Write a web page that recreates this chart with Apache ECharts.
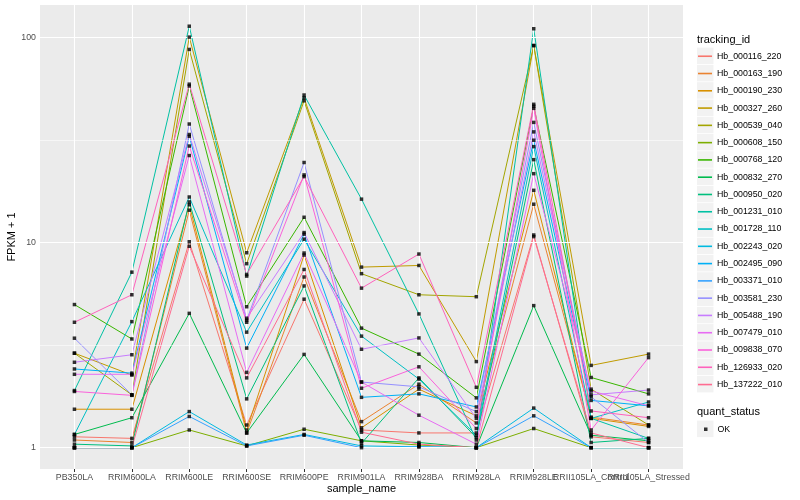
<!DOCTYPE html>
<html>
<head>
<meta charset="utf-8">
<script src="https://cdn.jsdelivr.net/npm/echarts@6/dist/echarts.min.js"></script>
<style>
html,body{margin:0;padding:0;background:#fff;}
#chart{width:800px;height:500px;}
</style>
</head>
<body>
<div id="chart"></div>
<script>
// ---- data ----
const categories = ["PB350LA","RRIM600LA","RRIM600LE","RRIM600SE","RRIM600PE","RRIM901LA","RRIM928BA","RRIM928LA","RRIM928LE","RRII105LA_Control","RRII105LA_Stressed"];
const trackingIds = ["Hb_000116_220","Hb_000163_190","Hb_000190_230","Hb_000327_260","Hb_000539_040","Hb_000608_150","Hb_000768_120","Hb_000832_270","Hb_000950_020","Hb_001231_010","Hb_001728_110","Hb_002243_020","Hb_002495_090","Hb_003371_010","Hb_003581_230","Hb_005488_190","Hb_007479_010","Hb_009838_070","Hb_126933_020","Hb_137222_010"];
const yTicks = [1, 10, 100];
const yMinorTicks = [3.1623, 31.623];

const hb_000116_220 = [1.13, 1.11, 10.1, 1.29, 5.3, 1.22, 1.18, 1.18, 10.9, 1.13, 1.06];
const hb_000163_190 = [1.09, 1.06, 14.4, 1.18, 6.8, 1.34, 2.04, 1.32, 15.4, 1.41, 1.29];
const hb_000190_230 = [1.54, 1.54, 15.3, 1.22, 8.7, 1.25, 1.93, 1.43, 18.0, 1.39, 1.27];
const hb_000327_260 = [2.89, 2.26, 100.6, 8.93, 50.9, 7.6, 7.74, 2.63, 91.5, 2.52, 2.86];
const hb_000539_040 = [2.89, 1.81, 87.6, 7.9, 49.2, 7.06, 5.57, 5.45, 91.5, 1.93, 1.29];
const hb_000608_150 = [1.0, 1.0, 1.22, 1.02, 1.23, 1.08, 1.03, 1.0, 1.24, 1.0, 1.0];
const hb_000768_120 = [4.99, 3.39, 58.1, 4.87, 13.3, 3.83, 2.86, 1.75, 46.3, 2.20, 1.83];
const hb_000832_270 = [1.16, 1.40, 4.52, 1.18, 2.85, 1.08, 1.06, 1.0, 4.93, 1.15, 1.08];
const hb_000950_020 = [1.04, 1.02, 15.8, 1.73, 6.15, 1.05, 2.19, 1.12, 25.4, 1.06, 1.11];
const hb_001231_010 = [1.90, 7.18, 113.7, 6.87, 52.5, 16.3, 4.49, 1.09, 110.5, 1.39, 1.11];
const hb_001728_110 = [1.16, 4.12, 16.7, 3.66, 10.4, 3.5, 2.16, 1.15, 29.4, 1.39, 1.67];
const hb_002243_020 = [1.0, 1.0, 1.50, 1.03, 1.16, 1.02, 1.01, 1.0, 1.56, 1.0, 1.0];
const hb_002495_090 = [2.42, 2.31, 33.0, 3.06, 11.0, 1.76, 1.83, 1.58, 31.6, 1.70, 1.60];
const hb_003371_010 = [1.0, 1.0, 1.42, 1.02, 1.15, 1.0, 1.01, 1.0, 1.43, 1.0, 1.0];
const hb_003581_230 = [3.42, 1.81, 37.9, 4.19, 24.6, 2.09, 1.98, 1.50, 38.6, 1.77, 1.06];
const hb_005488_190 = [2.61, 2.84, 33.7, 4.28, 11.2, 3.02, 3.43, 1.39, 34.7, 1.81, 1.91];
const hb_007479_010 = [2.28, 2.28, 26.6, 2.33, 8.9, 2.09, 1.44, 1.04, 21.7, 1.89, 1.60];
const hb_009838_070 = [1.88, 1.80, 29.6, 4.09, 21.4, 1.95, 2.48, 1.24, 45.2, 1.22, 2.75];
const hb_126933_020 = [4.09, 5.57, 59.3, 7.0, 21.0, 6.0, 8.8, 1.97, 47.3, 1.51, 1.40];
const hb_137222_010 = [1.0, 1.0, 9.6, 2.19, 7.4, 1.19, 1.04, 1.0, 10.7, 1.18, 1.0];

const seriesValues = [hb_000116_220, hb_000163_190, hb_000190_230, hb_000327_260, hb_000539_040,
  hb_000608_150, hb_000768_120, hb_000832_270, hb_000950_020, hb_001231_010, hb_001728_110,
  hb_002243_020, hb_002495_090, hb_003371_010, hb_003581_230, hb_005488_190, hb_007479_010,
  hb_009838_070, hb_126933_020, hb_137222_010];

// ---- style ----
const palette = ["#F8766D","#EA8331","#D89000","#C09B00","#A3A500","#7CAE00","#39B600","#00BB4E","#00BF7D","#00C1A3","#00BFC4","#00BAE0","#00B0F6","#35A2FF","#9590FF","#C77CFF","#E76BF3","#FA62DB","#FF62BC","#FF6C91"];
const FONT = "Liberation Sans, Arial, sans-serif";
const chart = echarts.init(document.getElementById('chart'), null, {renderer: 'canvas'});

const xIdx = categories.map((c, i) => i);
const xIdxEven = xIdx.filter(i => i % 2 === 0);
const xIdxOdd = xIdx.filter(i => i % 2 === 1);
const gridMarks = [];
xIdx.forEach(i => gridMarks.push({xAxis: i, lineStyle: {color: '#fff', width: 1.1, type: 'solid'}}));
yTicks.forEach(v => gridMarks.push({yAxis: v, lineStyle: {color: '#fff', width: 1.1, type: 'solid'}}));
yMinorTicks.forEach(v => gridMarks.push({yAxis: v, lineStyle: {color: '#fff', width: 0.55, type: 'solid'}}));

const series = [];
series.push({
  type: 'line', name: '_grid', data: [], z: 1, silent: true,
  markLine: {silent: true, symbol: ['none','none'], label: {show: false}, animation: false, data: gridMarks}
});
seriesValues.forEach((vals, i) => {
  series.push({
    type: 'line', name: trackingIds[i], z: 2,
    data: vals.map((v, j) => [j, v]),
    showSymbol: false, symbol: 'none',
    lineStyle: {color: palette[i], width: 1},
    itemStyle: {color: palette[i]},
    emphasis: {disabled: true}, animation: false
  });
});
const pts = [];
seriesValues.forEach(vals => vals.forEach((v, j) => pts.push([j, v])));
series.push({
  type: 'scatter', name: 'OK', z: 5, data: pts,
  symbol: 'rect', symbolSize: 3.5, itemStyle: {color: '#000'},
  emphasis: {disabled: true}, animation: false
});

const keyRects = [];
for (let i = 0; i < trackingIds.length; i++) {
  keyRects.push({type: 'rect', left: 697, top: 47.6 + i * 17.28, shape: {width: 16.5, height: 16.5}, style: {fill: '#F2F2F2'}, z: -1});
}
keyRects.push({type: 'rect', left: 697, top: 420.6, shape: {width: 16.5, height: 16.5}, style: {fill: '#F2F2F2'}, z: -1});
keyRects.push({type: 'text', left: 697, top: 34, style: {text: 'tracking_id', font: '11px ' + FONT, fill: '#000'}});
keyRects.push({type: 'text', left: 697, top: 406, style: {text: 'quant_status', font: '11px ' + FONT, fill: '#000'}});

function xAxisFor(vals, withName) {
  return {
    type: 'value', min: -0.6, max: 10.6, position: 'bottom', offset: 0,
    name: withName ? 'sample_name' : '', nameLocation: 'middle', nameGap: 14, nameMoveOverlap: false,
    nameTextStyle: {fontSize: 11, color: '#000', fontFamily: FONT, verticalAlign: 'top'},
    axisLine: {show: false},
    axisTick: {show: withName, customValues: xIdx, length: 3, lineStyle: {color: '#333', width: 1}},
    axisLabel: {customValues: vals, formatter: v => categories[Math.round(v)] || '', fontSize: 8.8, color: '#4D4D4D', margin: 4, fontFamily: FONT,
      showMinLabel: true, showMaxLabel: true, hideOverlap: false},
    splitLine: {show: false}
  };
}

chart.setOption({
  animation: false,
  backgroundColor: '#fff',
  textStyle: {fontFamily: FONT},
  grid: {left: 40, right: 117, top: 5, bottom: 31, show: true, backgroundColor: '#EBEBEB', borderWidth: 0,
    containLabel: false, outerBoundsMode: 'none'},
  xAxis: [xAxisFor(xIdxEven, true), xAxisFor(xIdxOdd, false)],
  yAxis: {
    type: 'log', logBase: 10, min: 0.787, max: 144.3,
    name: 'FPKM + 1', nameLocation: 'middle', nameGap: 23, nameMoveOverlap: false,
    nameTextStyle: {fontSize: 11, color: '#000', fontFamily: FONT},
    axisLine: {show: false},
    axisTick: {show: true, customValues: yTicks, length: 3, lineStyle: {color: '#333', width: 1}},
    axisLabel: {customValues: yTicks, formatter: v => String(Math.round(v)), fontSize: 8.8, color: '#4D4D4D', margin: 4, fontFamily: FONT},
    splitLine: {show: false}, minorSplitLine: {show: false}
  },
  legend: [{
    orient: 'vertical', left: 698, top: 47.6, itemGap: 0, padding: 0,
    itemWidth: 14, itemHeight: 1.6, selectedMode: false,
    textStyle: {fontSize: 8.8, color: '#000', lineHeight: 17.28, height: 17.28, fontFamily: FONT, padding: [0, 0, 0, 0]},
    data: trackingIds.map((n, i) => ({name: n, icon: 'rect', itemStyle: {color: palette[i]}}))
  }, {
    orient: 'vertical', left: 704, top: 420.6, itemGap: 0, padding: 0,
    itemWidth: 3.5, itemHeight: 3.5, selectedMode: false,
    textStyle: {fontSize: 8.8, color: '#000', lineHeight: 17.28, height: 17.28, fontFamily: FONT, padding: [0, 0, 0, 5]},
    data: [{name: 'OK', icon: 'rect', itemStyle: {color: '#000'}}]
  }],
  graphic: keyRects,
  series: series
});
</script>
</body>
</html>
